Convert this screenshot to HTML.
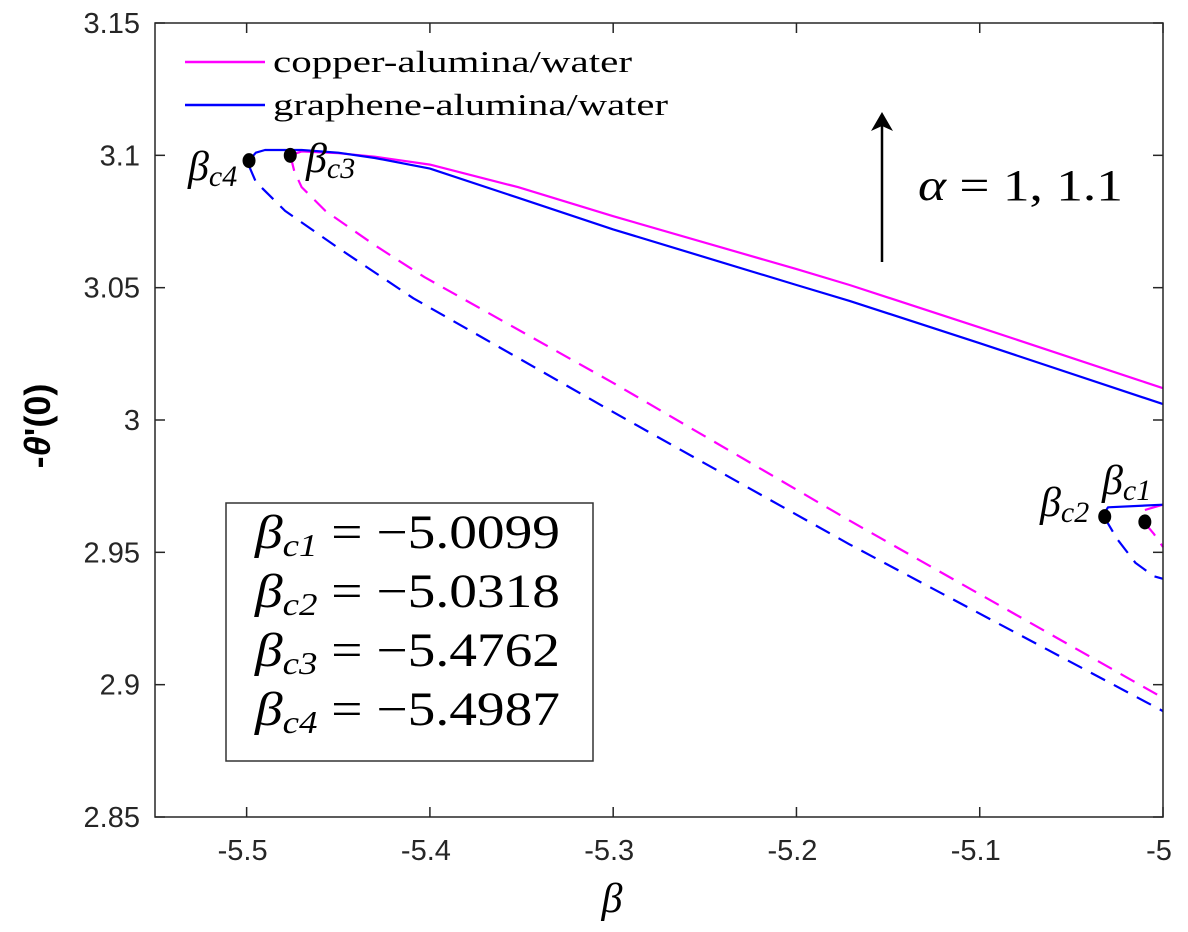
<!DOCTYPE html>
<html><head><meta charset="utf-8"><style>
html,body{margin:0;padding:0;background:#fff;}
svg{display:block;}
.tick{font-family:"Liberation Sans",sans-serif;font-size:29px;fill:#262626;}
.serif{font-family:"Liberation Serif",serif;fill:#000;}
</style></head><body>
<svg id="chart" width="1188" height="932" viewBox="0 0 1188 932" xmlns="http://www.w3.org/2000/svg">
<g id="marks"></g>
<g id="axes"></g>
</svg>
<script>
// ---- data ----
const xTicks = [-5.5, -5.4, -5.3, -5.2, -5.1, -5];
const xTickLabels = ['-5.5', '-5.4', '-5.3', '-5.2', '-5.1', '-5'];
const yTicks = [2.85, 2.9, 2.95, 3, 3.05, 3.1, 3.15];
const yTickLabels = ['2.85', '2.9', '2.95', '3', '3.05', '3.1', '3.15'];

const copperUpperBeta = [-5.4762, -5.47, -5.45, -5.43, -5.4, -5.352, -5.3, -5.2, -5.171, -5.1, -5];
const copperUpperVal  = [3.100, 3.1015, 3.1008, 3.0995, 3.0965, 3.088, 3.077, 3.057, 3.051, 3.035, 3.012];
const grapheneUpperBeta = [-5.4987, -5.495, -5.49, -5.47, -5.45, -5.43, -5.4, -5.352, -5.3, -5.2, -5.171, -5.1, -5];
const grapheneUpperVal  = [3.098, 3.101, 3.102, 3.102, 3.101, 3.099, 3.095, 3.084, 3.072, 3.051, 3.045, 3.029, 3.006];
const copperLowerBeta = [-5.4762, -5.474, -5.47, -5.457, -5.43, -5.403, -5.3, -5.171, -5];
const copperLowerVal  = [3.100, 3.094, 3.088, 3.079, 3.066, 3.054, 3.014, 2.962, 2.895];
const grapheneLowerBeta = [-5.4987, -5.495, -5.479, -5.45, -5.409, -5.3, -5.171, -5];
const grapheneLowerVal  = [3.096, 3.090, 3.079, 3.065, 3.046, 3.003, 2.953, 2.890];

const copperUpper2Beta = [-5.0099, -5.005, -5];
const copperUpper2Val  = [2.966, 2.967, 2.968];
const copperLower2Beta = [-5.0099, -5.005, -5];
const copperLower2Val  = [2.961, 2.957, 2.952];
const grapheneUpper2Beta = [-5.0318, -5.03, -5];
const grapheneUpper2Val  = [2.965, 2.967, 2.968];
const grapheneLower2Beta = [-5.0318, -5.025, -5.015, -5.005, -5];
const grapheneLower2Val  = [2.963, 2.955, 2.946, 2.941, 2.940];

const criticalNames = ['beta-c1', 'beta-c2', 'beta-c3', 'beta-c4'];
const criticalBeta = [-5.0099, -5.0318, -5.4762, -5.4987];
const criticalVal  = [2.9615, 2.9635, 3.100, 3.098];

// ---- scales ----
const L = 155, R = 1163, T = 23, B = 817;
const xMin = -5.55, xMax = -5, yMin = 2.85, yMax = 3.15;
const sx = v => L + (v - xMin) / (xMax - xMin) * (R - L);
const sy = v => B - (v - yMin) / (yMax - yMin) * (B - T);

const NS = 'http://www.w3.org/2000/svg';
const marks = document.getElementById('marks');
const axes = document.getElementById('axes');
function mk(tag, attrs, parent, text) {
  const e = document.createElementNS(NS, tag);
  for (const k in attrs) e.setAttribute(k, attrs[k]);
  if (text !== undefined) e.textContent = text;
  parent.appendChild(e);
  return e;
}
function line(xs, ys, color, dashed, name) {
  const d = xs.map((x, i) => (i ? 'L' : 'M') + sx(x).toFixed(1) + ' ' + sy(ys[i]).toFixed(1)).join(' ');
  const p = mk('path', {d: d, fill: 'none', stroke: color, 'stroke-width': 2.2, 'stroke-linejoin': 'round'}, marks);
  if (dashed) p.setAttribute('stroke-dasharray', '16 10');
  
  
}
const MAG = '#ff00ff', BLU = '#0000ff';
line(copperLowerBeta, copperLowerVal, MAG, true, 'copper-lower-branch');
line(grapheneLowerBeta, grapheneLowerVal, BLU, true, 'graphene-lower-branch');
line(copperUpperBeta, copperUpperVal, MAG, false, 'copper-upper-branch');
line(grapheneUpperBeta, grapheneUpperVal, BLU, false, 'graphene-upper-branch');
line(copperLower2Beta, copperLower2Val, MAG, true, 'copper-lower-branch-2');
line(grapheneLower2Beta, grapheneLower2Val, BLU, true, 'graphene-lower-branch-2');
line(copperUpper2Beta, copperUpper2Val, MAG, false, 'copper-upper-branch-2');
line(grapheneUpper2Beta, grapheneUpper2Val, BLU, false, 'graphene-upper-branch-2');

criticalBeta.forEach((b, i) => {
  const c = mk('ellipse', {cx: sx(b), cy: sy(criticalVal[i]), rx: 6.5, ry: 7.5, fill: '#000'}, marks);
  
  
});

// ---- axes ----
const box = mk('rect', {x: L, y: T, width: R - L, height: B - T, fill: 'none', stroke: '#262626', 'stroke-width': 1.5}, axes);


xTicks.forEach((v, i) => {
  const x = sx(v);
  mk('line', {x1: x, y1: B, x2: x, y2: B - 10, stroke: '#262626', 'stroke-width': 1.5}, axes);
  mk('line', {x1: x, y1: T, x2: x, y2: T + 10, stroke: '#262626', 'stroke-width': 1.5}, axes);
  const t = mk('text', {x: x - 4, y: 860, 'text-anchor': 'middle', class: 'tick'}, axes, xTickLabels[i]);
  
  
});
yTicks.forEach((v, i) => {
  const y = sy(v);
  mk('line', {x1: L, y1: y, x2: L + 10, y2: y, stroke: '#262626', 'stroke-width': 1.5}, axes);
  mk('line', {x1: R, y1: y, x2: R - 10, y2: y, stroke: '#262626', 'stroke-width': 1.5}, axes);
  const t = mk('text', {x: 140, y: y + 10, 'text-anchor': 'end', class: 'tick'}, axes, yTickLabels[i]);
  
  
});
</script>
<svg width="1188" height="932" style="position:absolute;left:0;top:0" xmlns="http://www.w3.org/2000/svg">
  <text x="612" y="912" class="serif" font-size="42" font-style="italic" text-anchor="middle">β</text>
  <text transform="translate(50,426) rotate(-90)" text-anchor="middle" font-family="Liberation Sans, sans-serif" font-weight="bold" font-size="36" fill="#000">-<tspan font-style="italic">θ</tspan>'(0)</text>
  <g>
    <line x1="185" y1="62" x2="265" y2="62" stroke="#ff00ff" stroke-width="2.5"/>
    <text x="273" y="72" class="serif" font-size="31" textLength="359" lengthAdjust="spacingAndGlyphs">copper-alumina/water</text>
    <line x1="185" y1="105" x2="265" y2="105" stroke="#0000ff" stroke-width="2.5"/>
    <text x="273" y="115" class="serif" font-size="31" textLength="395" lengthAdjust="spacingAndGlyphs">graphene-alumina/water</text>
  </g>
  <g>
    <text x="188" y="180" class="serif" font-size="42" font-style="italic">β<tspan font-size="30" dy="6">c4</tspan></text>
    <text x="306" y="172" class="serif" font-size="42" font-style="italic">β<tspan font-size="30" dy="6">c3</tspan></text>
    <text x="1040" y="516" class="serif" font-size="42" font-style="italic">β<tspan font-size="30" dy="6">c2</tspan></text>
    <text x="1102" y="494" class="serif" font-size="42" font-style="italic">β<tspan font-size="30" dy="6">c1</tspan></text>
  </g>
  <g>
    <line x1="882" y1="262" x2="882" y2="124" stroke="#000" stroke-width="2.5"/>
    <polygon points="882,112 871,131 882,126 893,131" fill="#000"/>
  </g>
  <text x="918" y="200" class="serif" font-size="44" textLength="205" lengthAdjust="spacingAndGlyphs"><tspan font-style="italic">α</tspan> = 1, 1.1</text>
  <g>
    <rect x="226" y="503" width="367" height="258" fill="none" stroke="#333" stroke-width="1.5"/>
    <text x="255" y="548" class="serif" font-size="48" textLength="305" lengthAdjust="spacingAndGlyphs"><tspan font-style="italic">β</tspan><tspan font-size="32" font-style="italic" dy="8">c1</tspan><tspan dy="-8"> = −5.0099</tspan></text>
    <text x="255" y="607" class="serif" font-size="48" textLength="305" lengthAdjust="spacingAndGlyphs"><tspan font-style="italic">β</tspan><tspan font-size="32" font-style="italic" dy="8">c2</tspan><tspan dy="-8"> = −5.0318</tspan></text>
    <text x="255" y="666" class="serif" font-size="48" textLength="305" lengthAdjust="spacingAndGlyphs"><tspan font-style="italic">β</tspan><tspan font-size="32" font-style="italic" dy="8">c3</tspan><tspan dy="-8"> = −5.4762</tspan></text>
    <text x="255" y="725" class="serif" font-size="48" textLength="305" lengthAdjust="spacingAndGlyphs"><tspan font-style="italic">β</tspan><tspan font-size="32" font-style="italic" dy="8">c4</tspan><tspan dy="-8"> = −5.4987</tspan></text>
  </g>
</svg>
</body></html>
